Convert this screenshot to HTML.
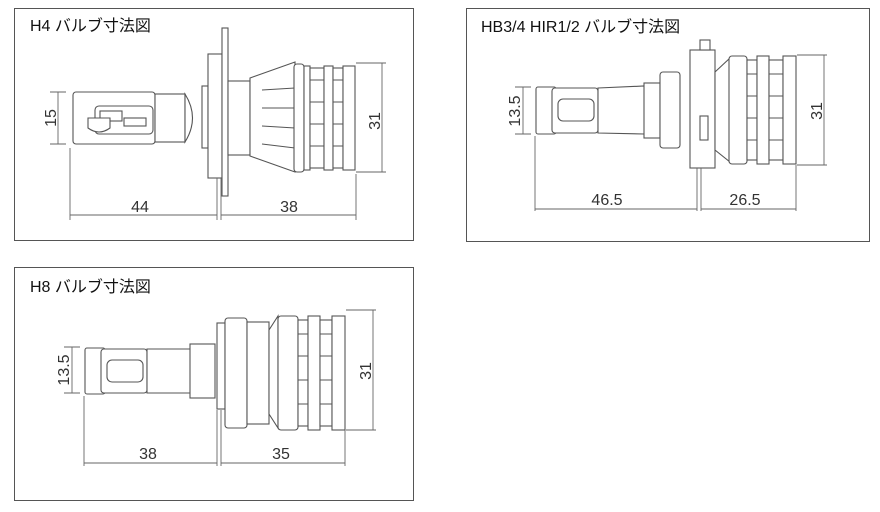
<!DOCTYPE html>
<html><head><meta charset="utf-8"><style>
html,body{margin:0;padding:0;background:#fff;width:880px;height:512px;overflow:hidden}
svg{display:block}
.t{font-family:"Liberation Sans","Noto Sans CJK JP",sans-serif;font-size:16px;fill:#111}
.d{font-family:"Liberation Sans",sans-serif;font-size:16px;fill:#333}
.s{fill:#fff;stroke:#555;stroke-width:1.1}
.l{stroke:#555;stroke-width:1;fill:none}
.dl{stroke:#666;stroke-width:0.9;fill:none}
</style></head><body>
<svg width="880" height="512" viewBox="0 0 880 512">
<rect x="14.5" y="8.5" width="399" height="232" fill="none" stroke="#555"/>
<rect x="466.5" y="8.5" width="403" height="233" fill="none" stroke="#555"/>
<rect x="14.5" y="267.5" width="399" height="233" fill="none" stroke="#555"/>
<text class="t" x="30" y="31">H4 バルブ寸法図</text>
<text class="t" x="481" y="32">HB3/4 HIR1/2 バルブ寸法図</text>
<text class="t" x="30" y="292">H8 バルブ寸法図</text>

<!-- ===== H4 ===== -->
<g>
<rect class="s" x="73" y="92" width="82" height="52" rx="3"/>
<rect class="s" x="155" y="94" width="30" height="48"/>
<path class="s" d="M185 94 Q200 118 185 142 Z"/>
<rect class="s" x="95" y="106" width="58" height="28" rx="4"/>
<rect class="s" x="100" y="111" width="22" height="10"/>
<rect class="s" x="124" y="118" width="22" height="8"/>
<path class="s" d="M88 118 h22 v10 q-11 8 -22 0z"/>
<rect class="s" x="202" y="86" width="6" height="62"/>
<rect class="s" x="208" y="54" width="14" height="124"/>
<rect class="s" x="222" y="28" width="6" height="168"/>
<rect class="s" x="228" y="81" width="22" height="74"/>
<path class="s" d="M250 78 L295 62 L295 172 L250 156 Z"/>
<path class="l" d="M262 90 L295 88 M262 108 L295 108 M262 126 L295 128 M262 144 L295 148"/>
<rect class="s" x="294" y="64" width="10" height="108" rx="3"/>
<rect class="s" x="304" y="66" width="6" height="104"/>
<rect class="s" x="310" y="68" width="14" height="100"/>
<rect class="s" x="324" y="66" width="9" height="104"/>
<rect class="s" x="333" y="68" width="10" height="100"/>
<rect class="s" x="343" y="66" width="12" height="104"/>
<path class="l" d="M310 80h14M310 102h14M310 124h14M310 146h14M333 80h10M333 102h10M333 124h10M333 146h10"/>
<path class="dl" d="M50 92h16M50 144h16M58 92v52M70 148v72M217 178v42M221 178v42M356 174v46M70 215h147M221 215h135M356 63h30M356 172h30M382 63v109"/>
<text class="d" transform="translate(56 118) rotate(-90)" text-anchor="middle">15</text>
<text class="d" transform="translate(380 121) rotate(-90)" text-anchor="middle">31</text>
<text class="d" x="140" y="212" text-anchor="middle">44</text>
<text class="d" x="289" y="212" text-anchor="middle">38</text>
</g>

<!-- ===== HB3 ===== -->
<g>
<rect class="s" x="536" y="87" width="20" height="47" rx="2"/>
<rect class="s" x="552" y="88" width="46" height="45" rx="3"/>
<path class="s" d="M598 88 L644 86 Q660 110 644 134 L598 133 Z"/>
<rect class="s" x="558" y="99" width="36" height="22" rx="5"/>
<rect class="s" x="644" y="83" width="16" height="55"/>
<rect class="s" x="660" y="72" width="20" height="76" rx="3"/>
<rect class="s" x="690" y="50" width="25" height="118"/>
<rect class="s" x="700" y="40" width="10" height="10"/>
<rect class="s" x="700" y="116" width="8" height="24"/>
<path class="s" d="M715 72 L730 58 L730 162 L715 150 Z"/>
<rect class="s" x="729" y="56" width="18" height="108" rx="3"/>
<rect class="s" x="747" y="60" width="10" height="100"/>
<rect class="s" x="757" y="56" width="12" height="108"/>
<rect class="s" x="769" y="60" width="14" height="100"/>
<rect class="s" x="783" y="56" width="13" height="108"/>
<path class="l" d="M747 74h10M747 96h10M747 118h10M747 140h10M769 74h14M769 96h14M769 118h14M769 140h14"/>
<path class="dl" d="M515 87h16M515 134h16M523 87v47M535 136v75M697 168v43M701 168v43M796 165v46M535 209h162M701 209h95M797 55h30M797 165h30M824 55v110"/>
<text class="d" transform="translate(520 111) rotate(-90)" text-anchor="middle">13.5</text>
<text class="d" transform="translate(822 111) rotate(-90)" text-anchor="middle">31</text>
<text class="d" x="607" y="205" text-anchor="middle">46.5</text>
<text class="d" x="745" y="205" text-anchor="middle">26.5</text>
</g>

<!-- ===== H8 ===== -->
<g>
<rect class="s" x="85" y="348" width="20" height="46" rx="2"/>
<rect class="s" x="101" y="349" width="46" height="44" rx="3"/>
<path class="s" d="M147 349 L190 349 Q204 371 190 393 L147 393 Z"/>
<rect class="s" x="107" y="360" width="36" height="22" rx="5"/>
<rect class="s" x="190" y="344" width="25" height="54"/>
<rect class="s" x="217" y="323" width="8" height="86"/>
<rect class="s" x="225" y="318" width="22" height="110" rx="3"/>
<rect class="s" x="247" y="322" width="22" height="102"/>
<path class="s" d="M269 330 L278 316 L278 428 L269 414 Z"/>
<rect class="s" x="278" y="316" width="20" height="114" rx="3"/>
<rect class="s" x="298" y="320" width="10" height="106"/>
<rect class="s" x="308" y="316" width="12" height="114"/>
<rect class="s" x="320" y="320" width="12" height="106"/>
<rect class="s" x="332" y="316" width="13" height="114"/>
<path class="l" d="M298 334h10M298 356h10M298 380h10M298 404h10M320 334h12M320 356h12M320 380h12M320 404h12"/>
<path class="dl" d="M64 347h16M64 393h16M72 347v46M84 396v70M217 410v56M221 410v56M345 430v36M84 463h133M221 463h124M346 310h30M346 430h30M373 310v120"/>
<text class="d" transform="translate(69 370) rotate(-90)" text-anchor="middle">13.5</text>
<text class="d" transform="translate(371 371) rotate(-90)" text-anchor="middle">31</text>
<text class="d" x="148" y="459" text-anchor="middle">38</text>
<text class="d" x="281" y="459" text-anchor="middle">35</text>
</g>
</svg>
</body></html>
